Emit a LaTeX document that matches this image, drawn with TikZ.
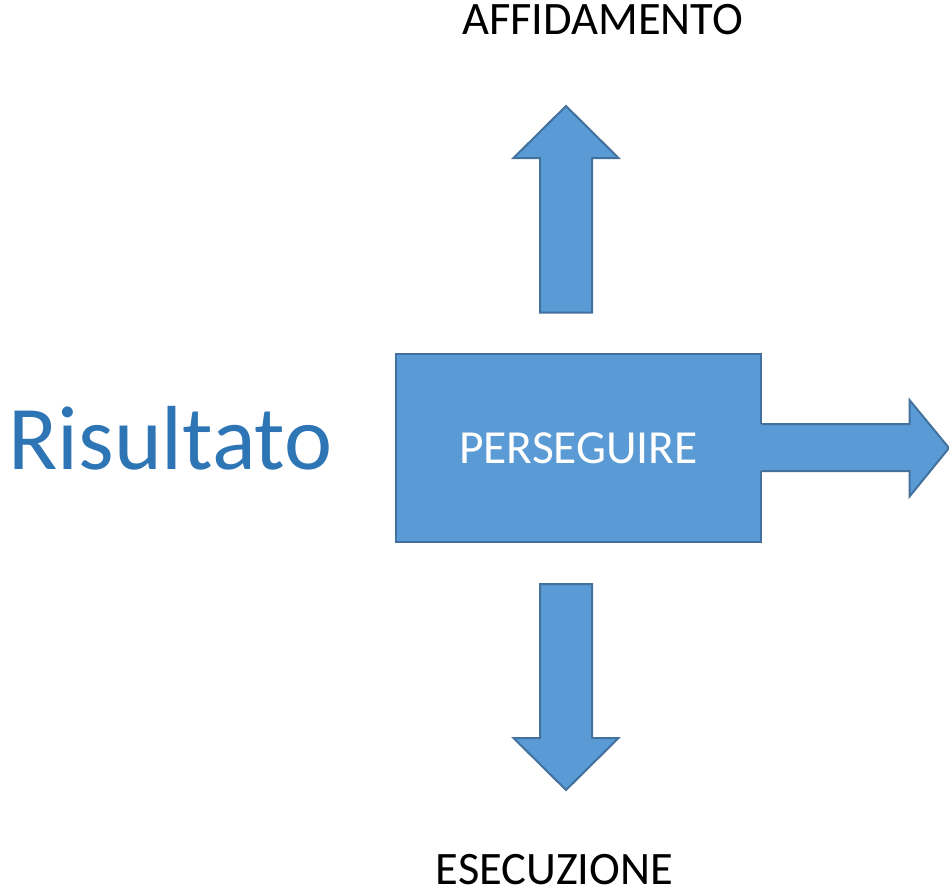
\documentclass[tikz,border=0pt]{standalone}
\usepackage{fontspec}
\setmainfont{Carlito}
\usetikzlibrary{positioning}
\definecolor{boxblue}{RGB}{91, 155, 213}
\definecolor{edgeblue}{RGB}{65, 113, 156}
\definecolor{titleblue}{RGB}{46, 117, 182}
\tikzset{blockarrow/.style={fill=boxblue, draw=edgeblue, line width=2pt, line join=miter}}

\begin{document}
\begin{tikzpicture}[x=1pt, y=-1pt]
         \useasboundingbox (0, 0) rectangle (949, 892);

         \node[font=\fontsize{46.5}{56}\selectfont, anchor=base, inner sep=0] (affidamento) at (602.5, 34) {AFFIDAMENTO};
         \node[font=\fontsize{46.5}{56}\selectfont, anchor=base, inner sep=0] (esecuzione) at (554.5, 884.5) {ESECUZIONE};
         \node[font=\fontsize{91}{109}\selectfont, text=titleblue, anchor=base west, inner sep=0] (risultato) at (8, 469) {Risultato};

         \node[blockarrow, minimum width=365pt, minimum height=188pt, inner sep=0,
               font=\fontsize{47.5}{57}\selectfont, text=white] (perseguire) at (578.5, 448) {PERSEGUIRE};

         % up
         \draw[blockarrow] (540, 312.5) -- (540, 158) -- (513.5, 158) -- (566, 106) --
             (618.5, 158) -- (592, 158) -- (592, 312.5) -- cycle;
         % down
         \draw[blockarrow] (540, 584) -- (540, 738) -- (513.5, 738) -- (566, 790) --
             (618.5, 738) -- (592, 738) -- (592, 584) -- cycle;
         % right, open on the box side
         \path[fill=boxblue] (757, 424) -- (909.5, 424) -- (909.5, 400) -- (949, 448) --
             (909.5, 496.5) -- (909.5, 471) -- (757, 471) -- cycle;
         \draw[edgeblue, line width=2pt] (761.5, 424) -- (909.5, 424) -- (909.5, 400) -- (949, 448) --
             (909.5, 496.5) -- (909.5, 471) -- (761.5, 471);

     \end{tikzpicture}
\end{document}
